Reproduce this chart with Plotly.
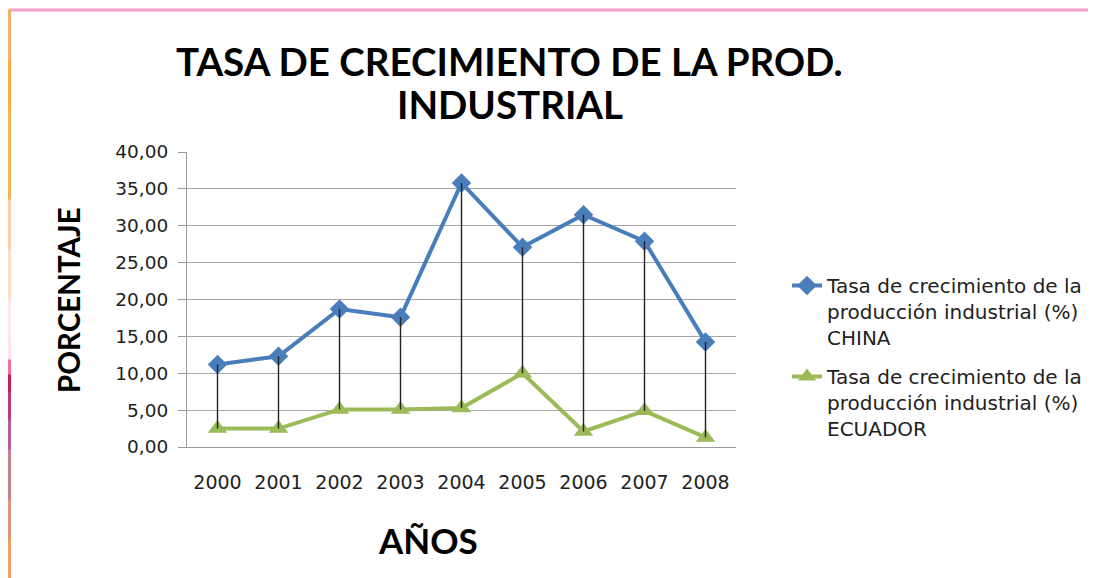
import plotly.graph_objects as go

# Data
years = ['2000', '2001', '2002', '2003', '2004', '2005', '2006', '2007', '2008']
china = [11.2, 12.3, 18.7, 17.6, 35.8, 27.1, 31.5, 27.9, 14.25]
ecuador = [2.5, 2.5, 5.1, 5.1, 5.3, 10.0, 2.1, 4.9, 1.3]

china_name = 'Tasa de crecimiento de la<br>producción industrial (%)<br>CHINA'
ecuador_name = 'Tasa de crecimiento de la<br>producción industrial (%)<br>ECUADOR'
title_lines = ['TASA DE CRECIMIENTO DE LA PROD.', 'INDUSTRIAL']

# page has an 8px body margin, so the figure is drawn 8px in from the window
W, H = 1088, 570
ML, MR, MT, MB = 179, 360, 144, 131


def main() -> None:
    pw, ph = W - ML - MR, H - MT - MB

    def px(v):
        return (v - ML) / pw

    def py(v):
        return (H - MB - v) / ph

    fig = go.Figure()

    fig.add_trace(go.Scatter(
        x=years, y=china, mode='lines+markers', name=china_name,
        legendgroup='china',
        line=dict(color='#4A7EBB', width=4),
        marker=dict(symbol='diamond', size=15, color='#4A7EBB'),
    ))
    fig.add_trace(go.Scatter(
        x=years, y=ecuador, mode='lines+markers', name=ecuador_name,
        legendgroup='ecuador',
        line=dict(color='#9BBB59', width=4),
        marker=dict(symbol='triangle-up', size=17, color='#9BBB59'),
    ))

    # high-low lines between the two series
    hx, hy = [], []
    for yr, lo, hi in zip(years, ecuador, china):
        hx += [yr, yr, None]
        hy += [lo, hi, None]
    fig.add_trace(go.Scatter(
        x=hx, y=hy, mode='lines', showlegend=False, hoverinfo='skip',
        line=dict(color='#222222', width=1.4),
    ))

    # decorative frame (top and left edges of the slide)
    shapes = [dict(type='line', xref='paper', yref='paper',
                   x0=px(1), x1=px(W + 5), y0=py(2), y1=py(2),
                   line=dict(color='#F7A1C9', width=3))]
    edge = [(2, '#F6A9C0'), (52, '#F5B06A'), (102, '#F4B042'), (192, '#F5B555'),
            (242, '#F8CFA8'), (292, '#FBDCCB'), (332, '#FDEBEB'), (352, '#FCE3EE'),
            (367, '#F070A8'), (384, '#C81C5C'), (412, '#BE3C7A'), (442, '#B35E98'),
            (492, '#C8808E'), (532, '#DE9478'), (575, '#EBA466')]
    for (a, _), (b, c) in zip(edge[:-1], edge[1:]):
        shapes.append(dict(type='line', xref='paper', yref='paper',
                           x0=px(1.5), x1=px(1.5), y0=py(a - 0.5), y1=py(b + 0.5),
                           line=dict(color=c, width=3)))

    bold = dict(family='Lato', color='black', weight='bold')
    annotations = [
        dict(text=title_lines[0], x=px(501), y=py(53), font=dict(size=38.5, **bold)),
        dict(text=title_lines[1], x=px(502), y=py(96), font=dict(size=38.5, **bold)),
        dict(text='AÑOS', x=px(420), y=py(532), font=dict(size=35, **bold)),
        dict(text='PORCENTAJE', x=px(60), y=py(292), textangle=-90,
             font=dict(size=29.5, **bold)),
    ]
    for a in annotations:
        a.update(xref='paper', yref='paper', showarrow=False,
                 xanchor='center', yanchor='middle')

    fig.update_layout(
        width=W, height=H,
        margin=dict(l=ML, r=MR, t=MT, b=MB, autoexpand=False),
        paper_bgcolor='white', plot_bgcolor='white',
        separators=',.',
        xaxis=dict(
            type='category', automargin=False, range=[-0.5, len(years) - 0.5],
            showgrid=False, showline=True, linecolor='#9A9A9A', linewidth=1,
            ticks='', ticklabelstandoff=18,
            tickfont=dict(family='DejaVu Sans', size=19, color='#222222'),
        ),
        yaxis=dict(
            range=[0, 40], dtick=5, tickformat='.2f', automargin=False,
            showgrid=True, gridcolor='#A6A6A6', gridwidth=1,
            showline=True, linecolor='#9A9A9A', linewidth=1,
            ticks='outside', ticklen=8, tickcolor='#9A9A9A', ticklabelstandoff=6,
            tickfont=dict(family='DejaVu Sans', size=18.5, color='#222222'),
            zeroline=False,
        ),
        legend=dict(
            xref='container', yref='container',
            x=779 / W, xanchor='left', y=1 - 258 / H, yanchor='top',
            font=dict(family='DejaVu Sans', size=20, color='#222222'),
            valign='top', tracegroupgap=10, bgcolor='rgba(0,0,0,0)',
        ),
        shapes=shapes,
        annotations=annotations,
        showlegend=True,
    )

    fig.write_html('out.html')


if __name__ == '__main__':
    main()
